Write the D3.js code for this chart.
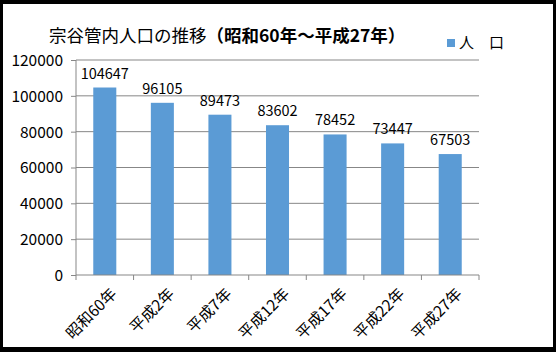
<!DOCTYPE html>
<html>
<head>
<meta charset="utf-8">
<script src="https://cdnjs.cloudflare.com/ajax/libs/d3/7.8.5/d3.min.js"></script>
<style>
  body { margin: 0; background: #000; }
  svg { display: block; }
  text { font-family: "Noto Sans CJK JP", "Noto Sans", sans-serif; fill: #000; }
</style>
</head>
<body>
<div id="chart"></div>
<script>
// data
var years = ["昭和60年", "平成2年", "平成7年", "平成12年", "平成17年", "平成22年", "平成27年"];
var population = [104647, 96105, 89473, 83602, 78452, 73447, 67503];
var yTicks = [0, 20000, 40000, 60000, 80000, 100000, 120000];
var titleMain = "宗谷管内人口の推移";
var titleSub = "（昭和60年～平成27年）";
var legendLabel = "人　口";

var W = 556, H = 352;
var margin = { top: 60, right: 77, bottom: 77, left: 76 };
var width = W - margin.left - margin.right,
    height = H - margin.top - margin.bottom;

var svg = d3.select("#chart").append("svg")
    .attr("width", W)
    .attr("height", H);

// frame
svg.append("rect").attr("width", W).attr("height", H).attr("fill", "#000");
svg.append("rect").attr("x", 3).attr("y", 4).attr("width", 550).attr("height", 343).attr("fill", "#fff");

var g = svg.append("g")
    .attr("transform", "translate(" + margin.left + "," + margin.top + ")");

var x = d3.scaleBand()
    .domain(years)
    .range([0, width])
    .paddingInner(0.6)
    .paddingOuter(0.3);

var y = d3.scaleLinear()
    .domain([0, 120000])
    .range([height, 0]);

// gridlines
g.selectAll(".grid")
    .data(yTicks.slice(1))
    .enter().append("line")
    .attr("class", "grid")
    .attr("x1", 0).attr("x2", width)
    .attr("y1", function(d) { return y(d); })
    .attr("y2", function(d) { return y(d); })
    .attr("stroke", "#878787")
    .attr("stroke-width", 1);

// y axis
var yAxis = d3.axisLeft(y).tickValues(yTicks).tickSize(5).tickPadding(8)
    .tickFormat(function(d) { return d; });
var yg = g.append("g").call(yAxis);
yg.select(".domain").attr("stroke", "#878787").attr("d", "M0," + height + "V0");
yg.selectAll(".tick line").attr("stroke", "#878787");
yg.selectAll("text").style("font-size", "15.5px").attr("dy", "0.35em");

// bars
g.selectAll(".bar")
    .data(population)
    .enter().append("rect")
    .attr("class", "bar")
    .attr("x", function(d, i) { return x(years[i]); })
    .attr("width", x.bandwidth())
    .attr("y", function(d) { return y(d); })
    .attr("height", function(d) { return height - y(d); })
    .attr("fill", "#5B9BD5");

// x axis
var step = x.step();
var xg = g.append("g").attr("transform", "translate(0," + height + ")");
xg.append("line").attr("x1", 0).attr("x2", width).attr("stroke", "#878787");
xg.selectAll(".xtick")
    .data(d3.range(years.length + 1))
    .enter().append("line")
    .attr("x1", function(i) { return i * step; })
    .attr("x2", function(i) { return i * step; })
    .attr("y1", 0).attr("y2", 5)
    .attr("stroke", "#878787");
xg.selectAll(".xlabel")
    .data(years)
    .enter().append("text")
    .attr("text-anchor", "end")
    .attr("transform", function(d) {
        return "translate(" + (x(d) + x.bandwidth() / 2 + 9) + ",16) rotate(-45)";
    })
    .attr("dy", "0.35em")
    .style("font-size", "15.5px")
    .text(function(d) { return d; });

// data labels
g.selectAll(".val")
    .data(population)
    .enter().append("text")
    .attr("text-anchor", "middle")
    .attr("x", function(d, i) { return x(years[i]) + x.bandwidth() / 2; })
    .attr("y", function(d) { return y(d) - 9; })
    .style("font-size", "14.5px")
    .text(function(d) { return d; });

// title
var title = svg.append("text")
    .attr("x", 49).attr("y", 42)
    .style("font-size", "17.5px");
title.append("tspan").text(titleMain);
title.append("tspan").style("font-weight", "bold").text(titleSub);

// legend
svg.append("rect").attr("x", 447).attr("y", 39).attr("width", 8).attr("height", 8).attr("fill", "#5B9BD5");
svg.append("text").attr("x", 459).attr("y", 48).style("font-size", "15px").text(legendLabel);
</script>
</body>
</html>
